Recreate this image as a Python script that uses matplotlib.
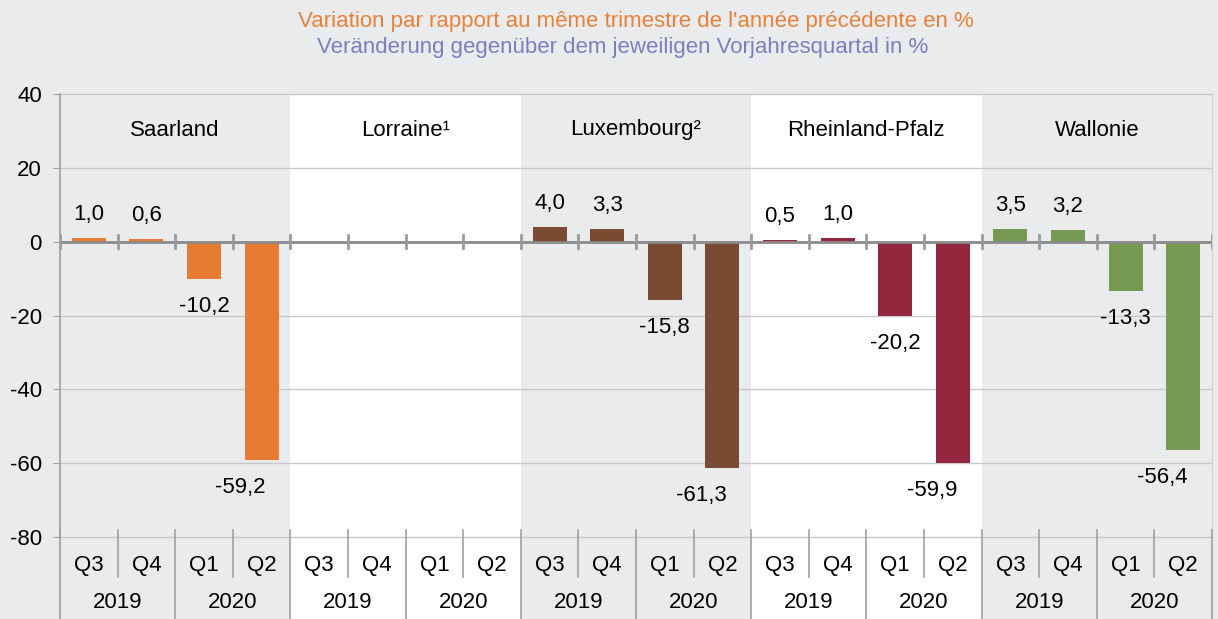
import numpy as np
import matplotlib
matplotlib.use("Agg")
import matplotlib.pyplot as plt
from matplotlib.patches import Rectangle
from matplotlib.transforms import blended_transform_factory

plt.rcParams["font.family"] = ["Liberation Sans", "DejaVu Sans"]
plt.rcParams["axes.unicode_minus"] = False

regions = ["Saarland", "Lorraine¹", "Luxembourg²", "Rheinland-Pfalz", "Wallonie"]
quarters = ["Q3", "Q4", "Q1", "Q2"]
years = ["2019", "2020"]
saarland = [1.0, 0.6, -10.2, -59.2]
lorraine = [np.nan, np.nan, np.nan, np.nan]
luxembourg = [4.0, 3.3, -15.8, -61.3]
rheinland = [0.5, 1.0, -20.2, -59.9]
wallonie = [3.5, 3.2, -13.3, -56.4]
series = [saarland, lorraine, luxembourg, rheinland, wallonie]
colors = ["#E67B31", "#FFFFFF", "#7A4A32", "#94263E", "#769A52"]

title_fr = "Variation par rapport au même trimestre de l'année précédente en %"
title_de = "Veränderung gegenüber dem jeweiligen Vorjahresquartal in %"

BG = "#EAEBED"
W, H = 1218, 619
fig = plt.figure(figsize=(W / 100, H / 100), dpi=100, facecolor=BG)
x0, x1, ytop, ybot = 60, 1212, 94, 537
ax = fig.add_axes([x0 / W, (H - ybot) / H, (x1 - x0) / W, (ybot - ytop) / H])
ax.set_facecolor(BG)
ax.set_xlim(-0.5, 19.5)
ax.set_ylim(-80, 40)

px = 1.0 / (ybot - ytop)  # one pixel in axes coords
bottom_ax = -(H - ybot) * px
tr = blended_transform_factory(ax.transData, ax.transAxes)

# white bands for Lorraine and Rheinland-Pfalz
for g in (1, 3):
    ax.add_patch(Rectangle((g * 4 - 0.5, bottom_ax), 4, 1 - bottom_ax, transform=tr,
                           facecolor="white", edgecolor="none", clip_on=False, zorder=0))

for y in range(-80, 41, 20):
    if y != 0:
        ax.axhline(y, color="#C8C8C8", lw=1, zorder=1, clip_on=False)

fs = 16
for g, (vals, col) in enumerate(zip(series, colors)):
    xs = np.arange(4) + g * 4
    ax.bar(xs, vals, width=0.59, color=col, zorder=2)
    for i, (x, v) in enumerate(zip(xs, vals)):
        if np.isnan(v):
            continue
        txt = f"{v:.1f}".replace(".", ",")
        if v >= 0:
            ax.annotate(txt, (x, v), xytext=(0, 13), textcoords="offset pixels",
                        ha="center", va="bottom", fontsize=fs)
        else:
            dx = -21 if i == 3 else 0
            ax.annotate(txt, (x, v), xytext=(dx, -17), textcoords="offset pixels",
                        ha="center", va="top", fontsize=fs)
    ax.text(g * 4 + 1.5, 1 - 36 * px, regions[g], transform=tr, ha="center",
            va="center", fontsize=fs)

ax.axhline(0, color="#8A8A8A", lw=2, zorder=3)
for b in range(21):
    ax.plot([b - 0.5, b - 0.5], [-1.8, 1.8], color="#9A9A9A", lw=2, zorder=3)

# category axis below
for b in range(21):
    if b % 2 == 0:
        y_end = bottom_ax
    else:
        y_end = -40 * px
    ax.plot([b - 0.5, b - 0.5], [7 * px, y_end], transform=tr, color="#A0A0A0",
            lw=1.2, clip_on=False, zorder=3)
for k in range(20):
    ax.text(k, -28 * px, quarters[k % 4], transform=tr, ha="center", va="center",
            fontsize=fs)
for k in range(10):
    ax.text(2 * k + 0.5, -66 * px, years[k % 2], transform=tr, ha="center",
            va="center", fontsize=fs)

for s in ["top", "bottom"]:
    ax.spines[s].set_visible(False)
ax.spines["right"].set_color("#D0D0D0")
ax.spines["left"].set_color("#A0A0A0")
ax.spines["left"].set_linewidth(1.2)
ax.set_xticks([])
ax.set_yticks(range(-80, 41, 20))
ax.tick_params(axis="y", labelsize=fs, length=5, color="#A0A0A0", pad=8)

fig.text(636 / W, 1 - 22 / H, title_fr, ha="center", va="center", fontsize=16,
         color="#E8823A")
fig.text(623 / W, 1 - 48 / H, title_de, ha="center", va="center", fontsize=16,
         color="#7B7FBF")

fig.savefig("out.png", dpi=100, facecolor=BG)
